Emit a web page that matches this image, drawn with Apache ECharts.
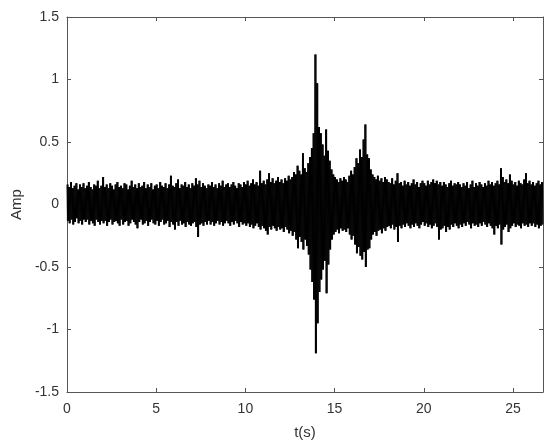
<!DOCTYPE html>
<html>
<head>
<meta charset="utf-8">
<script src="https://cdn.jsdelivr.net/npm/echarts@6/dist/echarts.min.js"></script>
<style>html,body{margin:0;padding:0;background:#fff}#c{width:550px;height:448px}</style>
</head>
<body>
<div id="c"></div>
<script>
// Envelope of the signal, one bin every 0.1 s starting at t = 0
const binStep = 0.1;
const upperPeaks = [
0.16,0.14,0.18,0.13,0.15,0.17,0.12,0.16,0.14,0.17,
0.13,0.15,0.18,0.14,0.12,0.16,0.15,0.19,0.13,0.15,
0.22,0.14,0.16,0.13,0.17,0.15,0.12,0.16,0.18,0.14,
0.15,0.13,0.17,0.16,0.12,0.15,0.19,0.14,0.16,0.13,
0.17,0.14,0.15,0.18,0.13,0.16,0.14,0.17,0.12,0.15,
0.16,0.13,0.18,0.15,0.14,0.17,0.13,0.16,0.23,0.15,
0.14,0.17,0.20,0.13,0.16,0.15,0.18,0.14,0.16,0.13,
0.17,0.15,0.21,0.16,0.19,0.14,0.17,0.15,0.13,0.16,
0.15,0.18,0.14,0.16,0.13,0.17,0.15,0.19,0.14,0.16,
0.17,0.14,0.16,0.18,0.15,0.13,0.17,0.16,0.14,0.18,
0.16,0.19,0.15,0.17,0.20,0.16,0.18,0.15,0.27,0.17,
0.19,0.16,0.20,0.25,0.18,0.21,0.17,0.19,0.22,0.18,
0.20,0.17,0.21,0.19,0.23,0.20,0.22,0.26,0.24,0.31,
0.27,0.24,0.41,0.29,0.26,0.33,0.38,0.45,0.57,1.20,
0.97,0.62,0.57,0.48,0.39,0.60,0.43,0.35,0.28,0.24,
0.22,0.20,0.18,0.21,0.19,0.22,0.20,0.18,0.23,0.27,
0.24,0.30,0.37,0.33,0.44,0.38,0.52,0.64,0.40,0.37,
0.28,0.24,0.22,0.20,0.23,0.19,0.21,0.18,0.22,0.20,
0.18,0.17,0.21,0.16,0.19,0.25,0.17,0.18,0.15,0.19,
0.16,0.18,0.15,0.17,0.20,0.16,0.18,0.14,0.17,0.19,
0.17,0.15,0.19,0.16,0.18,0.20,0.17,0.19,0.16,0.18,
0.15,0.18,0.16,0.14,0.17,0.19,0.15,0.17,0.16,0.18,
0.16,0.14,0.17,0.15,0.18,0.13,0.16,0.19,0.14,0.17,
0.15,0.18,0.16,0.14,0.17,0.15,0.19,0.16,0.18,0.15,
0.17,0.19,0.16,0.29,0.22,0.18,0.20,0.17,0.24,0.19,
0.16,0.18,0.15,0.19,0.17,0.16,0.20,0.25,0.17,0.19,
0.16,0.18,0.15,0.17,0.19,0.16,0.18
];
const lowerPeaks = [
-0.13,-0.15,-0.12,-0.16,-0.14,-0.11,-0.15,-0.13,-0.16,-0.12,
-0.14,-0.12,-0.16,-0.13,-0.15,-0.17,-0.12,-0.14,-0.16,-0.13,
-0.15,-0.13,-0.17,-0.14,-0.12,-0.16,-0.14,-0.13,-0.15,-0.17,
-0.12,-0.16,-0.14,-0.13,-0.17,-0.15,-0.12,-0.14,-0.16,-0.19,
-0.14,-0.12,-0.16,-0.15,-0.13,-0.17,-0.14,-0.12,-0.15,-0.16,
-0.13,-0.17,-0.14,-0.12,-0.16,-0.15,-0.13,-0.18,-0.14,-0.16,
-0.20,-0.14,-0.17,-0.13,-0.16,-0.15,-0.18,-0.14,-0.16,-0.17,
-0.15,-0.14,-0.18,-0.26,-0.16,-0.15,-0.17,-0.14,-0.16,-0.13,
-0.16,-0.14,-0.17,-0.15,-0.13,-0.16,-0.14,-0.17,-0.15,-0.13,
-0.15,-0.17,-0.14,-0.16,-0.13,-0.15,-0.18,-0.14,-0.16,-0.15,
-0.17,-0.15,-0.18,-0.16,-0.19,-0.17,-0.15,-0.18,-0.20,-0.17,
-0.19,-0.21,-0.24,-0.18,-0.20,-0.17,-0.19,-0.21,-0.18,-0.20,
-0.19,-0.22,-0.18,-0.20,-0.23,-0.21,-0.25,-0.22,-0.28,-0.35,
-0.26,-0.30,-0.36,-0.28,-0.33,-0.40,-0.52,-0.62,-0.76,-1.19,
-0.95,-0.70,-0.60,-0.52,-0.45,-0.71,-0.48,-0.36,-0.28,-0.24,
-0.22,-0.20,-0.23,-0.19,-0.21,-0.20,-0.22,-0.19,-0.24,-0.28,
-0.25,-0.32,-0.39,-0.34,-0.41,-0.44,-0.38,-0.50,-0.36,-0.35,
-0.28,-0.24,-0.22,-0.25,-0.21,-0.20,-0.23,-0.19,-0.21,-0.18,
-0.17,-0.19,-0.16,-0.20,-0.18,-0.30,-0.17,-0.19,-0.16,-0.18,
-0.15,-0.17,-0.19,-0.16,-0.18,-0.15,-0.17,-0.19,-0.16,-0.14,
-0.17,-0.15,-0.18,-0.16,-0.19,-0.17,-0.15,-0.18,-0.28,-0.20,
-0.19,-0.17,-0.22,-0.18,-0.20,-0.16,-0.18,-0.15,-0.17,-0.19,
-0.16,-0.18,-0.15,-0.17,-0.14,-0.16,-0.19,-0.15,-0.17,-0.16,
-0.18,-0.15,-0.17,-0.14,-0.16,-0.18,-0.15,-0.17,-0.19,-0.24,
-0.17,-0.19,-0.16,-0.32,-0.20,-0.18,-0.16,-0.22,-0.19,-0.17,
-0.15,-0.18,-0.16,-0.17,-0.19,-0.15,-0.17,-0.16,-0.18,-0.15,
-0.17,-0.15,-0.18,-0.16,-0.19,-0.17,-0.16
];
const xMax = 26.68;
const xTickStep = 5;
const yMin = -1.5, yMax = 1.5, yTickStep = 0.5;

// the trace swings between each bin's top and bottom peak (two swings per bin)
const trace = [];
for (let i = 0; i < upperPeaks.length; i++) {
  const t = i * binStep;
  trace.push([t, upperPeaks[i]]);
  trace.push([t + binStep * 0.25, lowerPeaks[i]]);
  trace.push([t + binStep * 0.5, upperPeaks[i]]);
  trace.push([t + binStep * 0.75, lowerPeaks[i]]);
}

const font = 'Liberation Sans, Arial, Helvetica, sans-serif';
const axisColor = '#555';
const labelStyle = { color: '#333', fontSize: 14, fontFamily: font };
const chart = echarts.init(document.getElementById('c'), null, { renderer: 'canvas' });
const boxAxis = () => ({
  axisLine: { show: true, onZero: false, lineStyle: { color: axisColor, width: 1 } },
  axisTick: { show: true, inside: true, length: 4, lineStyle: { color: axisColor } },
  splitLine: { show: false }
});
chart.setOption({
  animation: false,
  backgroundColor: '#fff',
  grid: { left: 67, right: 7, top: 17, bottom: 56, containLabel: false },
  xAxis: [
    Object.assign({
      type: 'value', min: 0, max: xMax, interval: xTickStep, position: 'bottom',
      name: 't(s)', nameLocation: 'middle', nameGap: 33,
      nameTextStyle: { color: '#333', fontSize: 15, fontFamily: font },
      axisLabel: Object.assign({ margin: 10, showMaxLabel: false }, labelStyle)
    }, boxAxis()),
    Object.assign({
      type: 'value', min: 0, max: xMax, interval: xTickStep, position: 'top',
      axisLabel: { show: false }
    }, boxAxis())
  ],
  yAxis: [
    Object.assign({
      type: 'value', min: yMin, max: yMax, interval: yTickStep, position: 'left',
      name: 'Amp', nameLocation: 'middle', nameGap: 43,
      nameTextStyle: { color: '#333', fontSize: 15, fontFamily: font },
      axisLabel: Object.assign({ margin: 8 }, labelStyle)
    }, boxAxis()),
    Object.assign({
      type: 'value', min: yMin, max: yMax, interval: yTickStep, position: 'right',
      axisLabel: { show: false }
    }, boxAxis())
  ],
  series: [{
    type: 'line',
    data: trace,
    showSymbol: false,
    symbol: 'none',
    sampling: null,
    lineStyle: { color: '#000', width: 1 },
    clip: true,
    silent: true
  }]
});
</script>
</body>
</html>
